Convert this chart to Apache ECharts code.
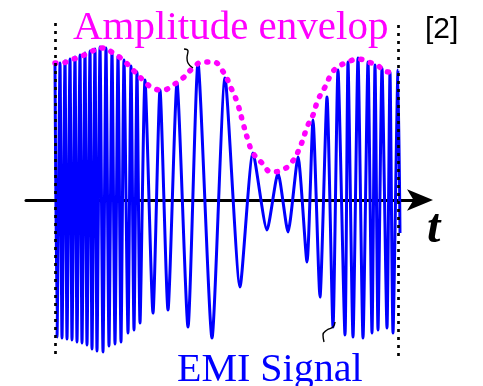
<!DOCTYPE html>
<html>
<head>
<meta charset="utf-8">
<script src="https://cdn.jsdelivr.net/npm/echarts@6/dist/echarts.min.js"></script>
<style>html,body{margin:0;padding:0;background:#fff;}#c{width:483px;height:386px;}</style>
</head>
<body>
<div id="c"></div>
<script>
// EMI signal: alternating peak / trough extremes (time units, amplitude units)
var signalT = [0,2,5,7,10,12,15,17,20,22,25,27,30,32,35,37,40,42,45,48,51,54,57,60,63,66,69,73,76,79,82,85,90,98,105,113,122,133,143,157,170,185,198,212,223,233,243,252,258,265,272,278,283,290,293,298,303,308,313,317,320,323,327,332,335,338,343,345];
var signalA = [137,-137,137,-138,139,-139,141,-140,143,-142,145,-143,147,-145,149,-149,151,-151,153,-152,152,-146,148,-144,144,-142,140,-133,134,-130,128,-123,120,-113,110,-110,117,-127,137,-138,122,-87,47,-30,27,-32,43,-62,80,-97,103,-127,130,-135,138,-137,142,-138,138,-133,135,-130,132,-128,128,-133,130,-33];
// Amplitude envelope (upper)
var envT = [0,7,15,25,35,48,58,68,78,88,98,108,118,128,138,148,158,167,177,183,188,193,198,207,217,227,237,245,253,258,263,270,277,283,293,303,313,322,328,335,342];
var envA = [137,137,140,143,148,152,147,140,130,120,112,110,115,122,132,138,138,130,110,95,77,60,47,37,28,30,38,53,75,85,100,113,127,133,138,141,138,135,130,128,130];
// Observation window boundaries (time) and their vertical extent (amplitude)
var windowT = [0, 343];
var windowTop = [177, 175];
var windowBottom = -157;
// Leader squiggles for labels
var leaderTopT = [129,133,132,133,138];
var leaderTopA = [151,149,142,137,132];
var leaderBotT = [280,278,272,268,269];
var leaderBotA = [-122,-127,-130,-135,-142];
// Labels
var labelEnvelope = 'Amplitude envelop';
var labelSignal = 'EMI Signal';
var labelAxis = 't';
var labelRef = '[2]';

function zip(a, b) { return a.map(function (v, i) { return [v, b[i]]; }); }

var chart = echarts.init(document.getElementById('c'), null, {renderer: 'canvas'});
chart.setOption({
  animation: false,
  backgroundColor: '#ffffff',
  grid: {left: 26, right: 63, top: 0, bottom: 0},
  xAxis: {
    type: 'value', min: -29, max: 365,
    axisLine: {show: true, onZero: true, lineStyle: {color: '#000', width: 3}, symbol: ['none', 'arrow'], symbolSize: [16, 26], symbolOffset: [0, 13]},
    axisTick: {show: false}, axisLabel: {show: false}, splitLine: {show: false}
  },
  yAxis: {
    type: 'value', min: -186, max: 200,
    axisLine: {show: false}, axisTick: {show: false}, axisLabel: {show: false}, splitLine: {show: false}
  },
  series: [
    {
      type: 'line', data: zip(signalT, signalA), symbol: 'none', smooth: 0.2,
      lineStyle: {color: '#0000ff', width: 3}, z: 2, silent: true,
      markLine: {
        silent: true, symbol: ['none', 'none'], label: {show: false},
        lineStyle: {color: '#000', width: 2.7, type: [3, 5]},
        data: windowT.map(function (t, i) { return [{coord: [t, windowTop[i]]}, {coord: [t, windowBottom]}]; })
      }
    },
    {
      type: 'line', data: zip(envT, envA), symbol: 'none', smooth: 0.5,
      lineStyle: {color: '#ff00ff', width: 5.5, type: [1, 9], cap: 'round'}, z: 3, silent: true
    },
    {
      type: 'line', data: zip(leaderTopT, leaderTopA), symbol: 'none', smooth: true,
      lineStyle: {color: '#000', width: 1.4}, z: 4, silent: true
    },
    {
      type: 'line', data: zip(leaderBotT, leaderBotA), symbol: 'none', smooth: true,
      lineStyle: {color: '#000', width: 1.4}, z: 4, silent: true
    }
  ],
  graphic: [
    {type: 'text', left: 73, top: 8, style: {text: labelEnvelope, fill: '#ff00ff', font: '41px "Liberation Serif", serif'}, z: 10},
    {type: 'text', left: 177, top: 350, style: {text: labelSignal, fill: '#0000ff', font: '40px "Liberation Serif", serif'}, z: 10},
    {type: 'text', left: 427, top: 206, style: {text: labelAxis, fill: '#000', font: 'italic bold 48px "Liberation Serif", serif'}, z: 10},
    {type: 'text', left: 425, top: 15, style: {text: labelRef, fill: '#000', font: '30px "Liberation Sans", Arial, sans-serif'}, z: 10}
  ]
});
</script>
</body>
</html>
